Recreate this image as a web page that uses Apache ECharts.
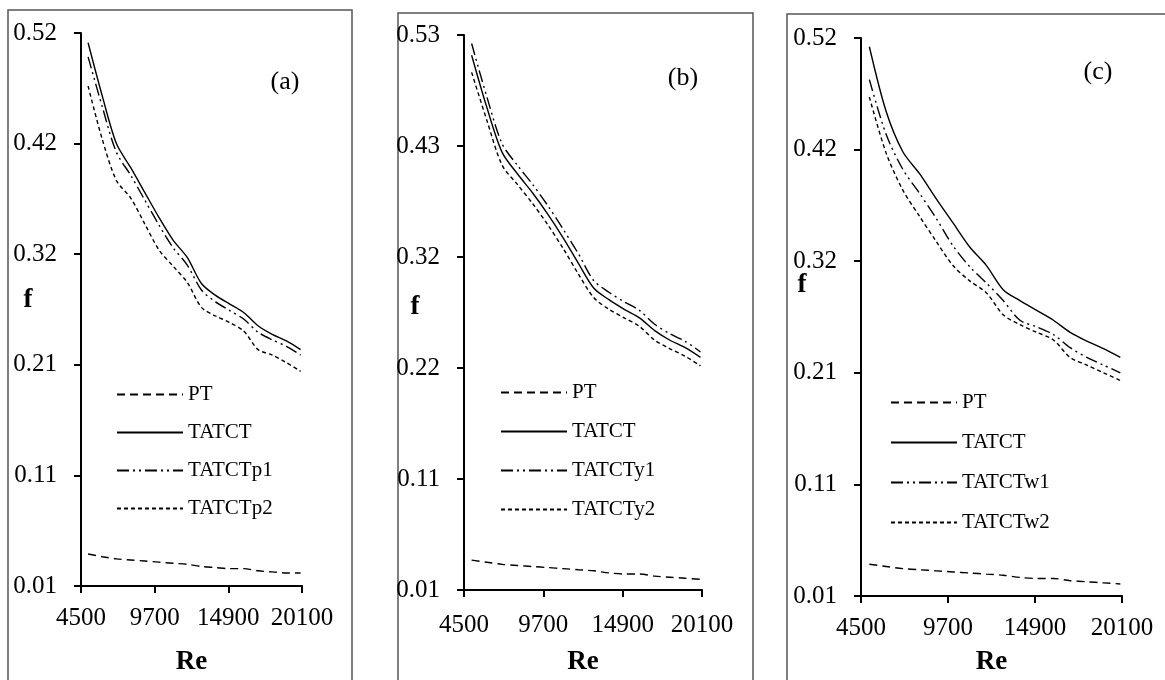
<!DOCTYPE html>
<html>
<head>
<meta charset="utf-8">
<script src="https://cdn.jsdelivr.net/npm/echarts@6/dist/echarts.min.js"></script>
<style>
  html, body { margin: 0; padding: 0; background: #fff; }
  #chart { width: 1165px; height: 680px; }
</style>
</head>
<body>
<div id="chart"></div>
<script>
// Reynolds numbers shared by every panel
const re = [5000, 6000, 7000, 8000, 9000, 10000, 11000, 12000, 13000, 14000, 15000, 16000, 17000, 18000, 19000, 20000]

// tick values
const xTicks = [4500, 9700, 14900, 20100]
const yTicksAC = [0.01, 0.112, 0.214, 0.316, 0.418, 0.52]
const yTicksB = [0.01, 0.114, 0.218, 0.322, 0.426, 0.53]

// panel (a)
const ptA = [0.0395, 0.037, 0.035, 0.034, 0.033, 0.032, 0.031, 0.030, 0.028, 0.027, 0.026, 0.026, 0.024, 0.023, 0.022, 0.022]
const tatctA = [0.511, 0.462, 0.418, 0.396, 0.373, 0.350, 0.329, 0.313, 0.289, 0.278, 0.270, 0.262, 0.250, 0.242, 0.236, 0.228]
const p1A = [0.498, 0.452, 0.410, 0.389, 0.366, 0.343, 0.322, 0.306, 0.283, 0.272, 0.264, 0.256, 0.244, 0.237, 0.231, 0.223]
const p2A = [0.471, 0.422, 0.384, 0.368, 0.344, 0.320, 0.305, 0.290, 0.267, 0.259, 0.253, 0.245, 0.228, 0.223, 0.216, 0.208]

// panel (b)
const ptB = [0.038, 0.036, 0.034, 0.033, 0.032, 0.031, 0.030, 0.029, 0.028, 0.026, 0.025, 0.025, 0.023, 0.022, 0.021, 0.020]
const tatctB = [0.511, 0.462, 0.420, 0.400, 0.382, 0.362, 0.340, 0.316, 0.293, 0.282, 0.273, 0.265, 0.253, 0.244, 0.237, 0.228]
const y1B = [0.522, 0.472, 0.428, 0.408, 0.390, 0.370, 0.348, 0.325, 0.300, 0.289, 0.280, 0.272, 0.259, 0.250, 0.243, 0.233]
const y2B = [0.495, 0.450, 0.408, 0.390, 0.372, 0.352, 0.330, 0.306, 0.284, 0.273, 0.265, 0.257, 0.244, 0.236, 0.229, 0.220]

// panel (c)
const ptC = [0.039, 0.037, 0.035, 0.034, 0.033, 0.032, 0.031, 0.030, 0.029, 0.027, 0.026, 0.026, 0.024, 0.023, 0.022, 0.021]
const tatctC = [0.512, 0.453, 0.416, 0.396, 0.373, 0.351, 0.329, 0.312, 0.290, 0.280, 0.271, 0.262, 0.251, 0.243, 0.236, 0.228]
const w1C = [0.482, 0.432, 0.400, 0.378, 0.355, 0.330, 0.311, 0.296, 0.280, 0.262, 0.256, 0.249, 0.237, 0.228, 0.221, 0.214]
const w2C = [0.466, 0.415, 0.381, 0.357, 0.334, 0.312, 0.298, 0.287, 0.267, 0.258, 0.251, 0.244, 0.228, 0.221, 0.214, 0.207]

const FONT = 'Liberation Serif'

// line styles
const styles = {
    pt: [8, 5],
    solid: 'solid',
    dashDot: [12, 4, 2, 4, 2, 4],
    fine: [4, 3]
}

const pairs = vals => re.map((r, i) => [r, vals[i]])

function makeSeries(name, vals, type, idx) {
    return {
        name: name,
        type: 'line',
        xAxisIndex: idx,
        yAxisIndex: idx,
        data: pairs(vals),
        smooth: 0.3,
        symbol: 'none',
        lineStyle: { color: '#000', width: 1.4, type: type },
        itemStyle: { color: '#000' }
    }
}

function xAxis(idx, labelMargin, nameGap) {
    return {
        type: 'value',
        gridIndex: idx,
        min: 4500,
        max: 20100,
        name: 'Re',
        nameLocation: 'middle',
        nameGap: nameGap,
        nameTextStyle: { fontFamily: FONT, fontSize: 27, fontWeight: 'bold', color: '#000' },
        axisLine: { lineStyle: { color: '#000', width: 2 } },
        axisTick: { show: true, length: 7, lineStyle: { color: '#000', width: 2 }, customValues: xTicks },
        axisLabel: {
            fontFamily: FONT, fontSize: 25, color: '#000', margin: labelMargin,
            customValues: xTicks,
            formatter: v => String(v)
        },
        splitLine: { show: false }
    }
}

function yAxis(idx, ticks) {
    return {
        type: 'value',
        gridIndex: idx,
        min: ticks[0],
        max: ticks[ticks.length - 1],
        axisLine: { show: true, lineStyle: { color: '#000', width: 2 } },
        axisTick: { show: true, length: 7, lineStyle: { color: '#000', width: 2 }, customValues: ticks },
        axisLabel: {
            fontFamily: FONT, fontSize: 25, color: '#000', margin: 24,
            customValues: ticks,
            formatter: v => v.toFixed(2)
        },
        splitLine: { show: false }
    }
}

function legend(top, left, names, gap) {
    return {
        orient: 'vertical',
        top: top,
        left: left,
        itemWidth: 66,
        itemHeight: 14,
        itemGap: gap,
        selectedMode: false,
        data: names,
        itemStyle: { opacity: 0 },
        textStyle: { fontFamily: FONT, fontSize: 21, color: '#000', lineHeight: 21 }
    }
}

function label(text, x, y, size, bold) {
    return {
        type: 'text',
        x: x,
        y: y,
        style: {
            text: text,
            fontFamily: FONT,
            fontSize: size,
            fontWeight: bold ? 'bold' : 'normal',
            fill: '#000',
            align: 'center',
            verticalAlign: 'middle'
        }
    }
}

function box(x, y, w, h) {
    return {
        type: 'rect',
        z: -1,
        shape: { x: x, y: y, width: w, height: h },
        style: { fill: 'none', stroke: '#555', lineWidth: 1.5 }
    }
}

const chart = echarts.init(document.getElementById('chart'))

const option = {
    backgroundColor: '#fff',
    animation: false,
    grid: [
        { left: 81, top: 33, width: 221, height: 553, outerBoundsMode: 'none' },
        { left: 464, top: 35, width: 238, height: 555, outerBoundsMode: 'none' },
        { left: 861, top: 38, width: 261, height: 558, outerBoundsMode: 'none' }
    ],
    xAxis: [xAxis(0, 20, 63), xAxis(1, 23, 59), xAxis(2, 20, 53)],
    yAxis: [yAxis(0, yTicksAC), yAxis(1, yTicksB), yAxis(2, yTicksAC)],
    legend: [
        legend(379, 111, ['PT', 'TATCT', 'TATCTp1', 'TATCTp2'], 17),
        legend(377, 495, ['PT', 'TATCT', 'TATCTy1', 'TATCTy2'], 18),
        legend(387, 885, ['PT', 'TATCT', 'TATCTw1', 'TATCTw2'], 19)
    ],
    graphic: [
        box(8, 10, 344, 690),
        box(398, 13, 355, 690),
        box(787, 14, 400, 690),
        label('(a)', 285, 82, 26, false),
        label('(b)', 683, 78, 26, false),
        label('(c)', 1098, 72, 26, false),
        label('f', 28, 300, 27, true),
        label('f', 415, 307, 27, true),
        label('f', 802, 285, 27, true)
    ],
    series: [
        makeSeries('PT', ptA, styles.pt, 0),
        makeSeries('TATCT', tatctA, styles.solid, 0),
        makeSeries('TATCTp1', p1A, styles.dashDot, 0),
        makeSeries('TATCTp2', p2A, styles.fine, 0),
        makeSeries('PT', ptB, styles.pt, 1),
        makeSeries('TATCT', tatctB, styles.solid, 1),
        makeSeries('TATCTy1', y1B, styles.dashDot, 1),
        makeSeries('TATCTy2', y2B, styles.fine, 1),
        makeSeries('PT', ptC, styles.pt, 2),
        makeSeries('TATCT', tatctC, styles.solid, 2),
        makeSeries('TATCTw1', w1C, styles.dashDot, 2),
        makeSeries('TATCTw2', w2C, styles.fine, 2)
    ]
}

chart.setOption(option)

window.addEventListener('resize', () => {
    chart.resize()
})
</script>
</body>
</html>
